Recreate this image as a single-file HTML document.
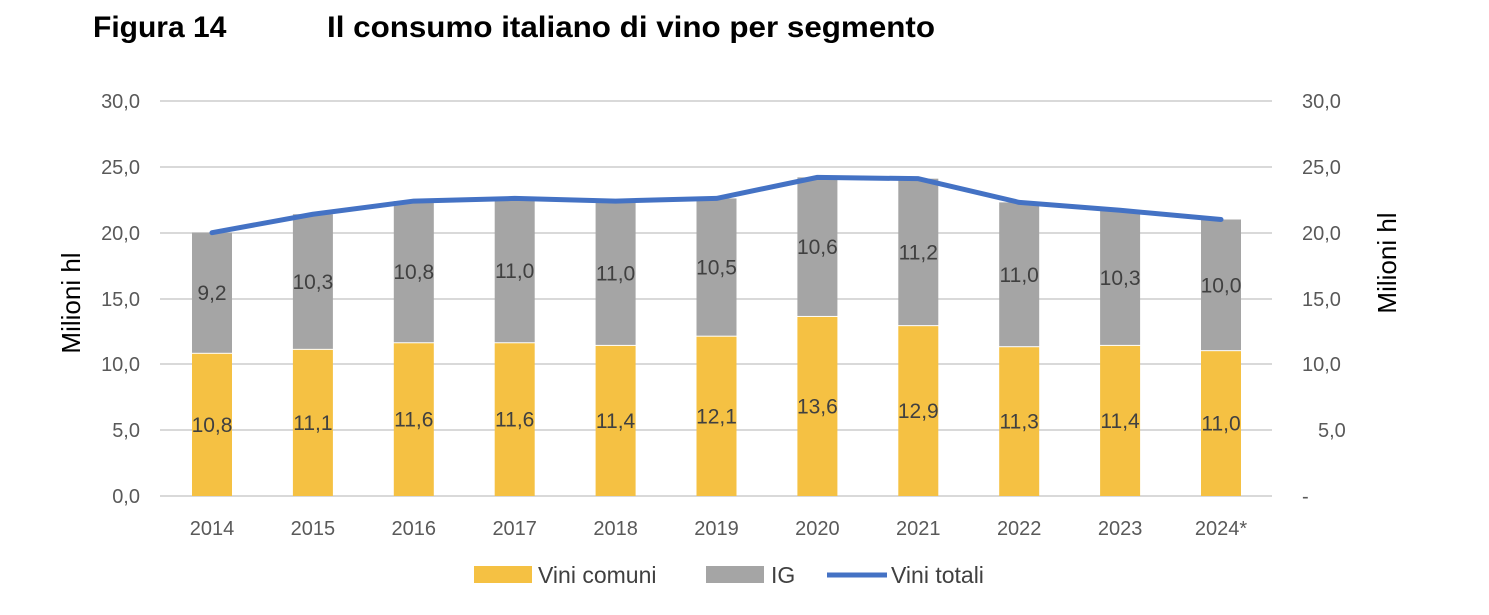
<!DOCTYPE html>
<html><head><meta charset="utf-8"><style>
body{margin:0;background:#fff;width:1489px;height:610px;overflow:hidden}
svg{font-family:"Liberation Sans",sans-serif}
</style></head><body>
<svg width="1489" height="610" xmlns="http://www.w3.org/2000/svg">
<text x="93" y="37" font-size="30" font-weight="bold">Figura 14</text>
<text x="327" y="37" font-size="30" font-weight="bold" textLength="608" lengthAdjust="spacingAndGlyphs">Il consumo italiano di vino per segmento</text>
<g stroke="#d9d9d9" stroke-width="2">
<line x1="160" x2="1272" y1="101" y2="101"/><line x1="160" x2="1272" y1="167" y2="167"/>
<line x1="160" x2="1272" y1="233" y2="233"/><line x1="160" x2="1272" y1="299" y2="299"/>
<line x1="160" x2="1272" y1="364" y2="364"/><line x1="160" x2="1272" y1="430" y2="430"/>
<line x1="160" x2="1272" y1="496" y2="496"/>
</g>
<g font-size="20" fill="#595959" text-anchor="end">
<text x="140" y="108">30,0</text><text x="140" y="174">25,0</text><text x="140" y="240">20,0</text>
<text x="140" y="306">15,0</text><text x="140" y="371">10,0</text><text x="140" y="437">5,0</text><text x="140" y="503">0,0</text>
</g>
<g font-size="20" fill="#595959" text-anchor="start">
<text x="1302" y="108">30,0</text><text x="1302" y="174">25,0</text><text x="1302" y="240">20,0</text>
<text x="1302" y="306">15,0</text><text x="1302" y="371">10,0</text><text x="1318" y="437">5,0</text><text x="1302" y="503">-</text>
</g>
<text transform="translate(80,303) rotate(-90)" font-size="26" text-anchor="middle">Milioni hl</text>
<text transform="translate(1396,263) rotate(-90)" font-size="26" text-anchor="middle">Milioni hl</text>
<g id="bars"></g>
<polyline id="line" fill="none" stroke="#4472C4" stroke-width="5" stroke-linecap="round" stroke-linejoin="round"/>
<g font-size="23" fill="#404040">
<rect x="474" y="566" width="58" height="17" fill="#F5C143"/><text x="538" y="583">Vini comuni</text>
<rect x="706" y="566" width="58" height="17" fill="#A5A5A5"/><text x="771" y="583">IG</text>
<line x1="827" x2="887" y1="575" y2="575" stroke="#4472C4" stroke-width="5"/><text x="891" y="583">Vini totali</text>
</g>
</svg>
<script>
var yv=v=>496-v*13.1667;
var yr=["2014","2015","2016","2017","2018","2019","2020","2021","2022","2023","2024*"];
var a=[10.8,11.1,11.6,11.6,11.4,12.1,13.6,12.9,11.3,11.4,11.0];
var b=[9.2,10.3,10.8,11.0,11.0,10.5,10.6,11.2,11.0,10.3,10.0];
var t=[20.0,21.4,22.4,22.6,22.4,22.6,24.2,24.1,22.3,21.7,21.0];
var s="",pts=[];
for(var i=0;i<11;i++){var c=212+i*100.9;
var ya=yv(a[i]),yt=yv(t[i]);
s+=`<rect x="${c-20}" y="${ya}" width="40" height="${496-ya}" fill="#F5C143"/>`;
s+=`<rect x="${c-20}" y="${yt}" width="40" height="${ya-yt-1}" fill="#A5A5A5"/>`;
var f=v=>v.toFixed(1).replace('.',',');
s+=`<text x="${c}" y="${(496+ya)/2+7}" font-size="21" fill="#404040" text-anchor="middle">${f(a[i])}</text>`;
s+=`<text x="${c}" y="${(ya+yt)/2+7}" font-size="21" fill="#404040" text-anchor="middle">${f(b[i])}</text>`;
s+=`<text x="${c}" y="535" font-size="20" fill="#595959" text-anchor="middle">${yr[i]}</text>`;
pts.push(c+","+yt);}
document.getElementById("bars").innerHTML=s;
document.getElementById("line").setAttribute("points",pts.join(" "));
</script>
</body></html>
